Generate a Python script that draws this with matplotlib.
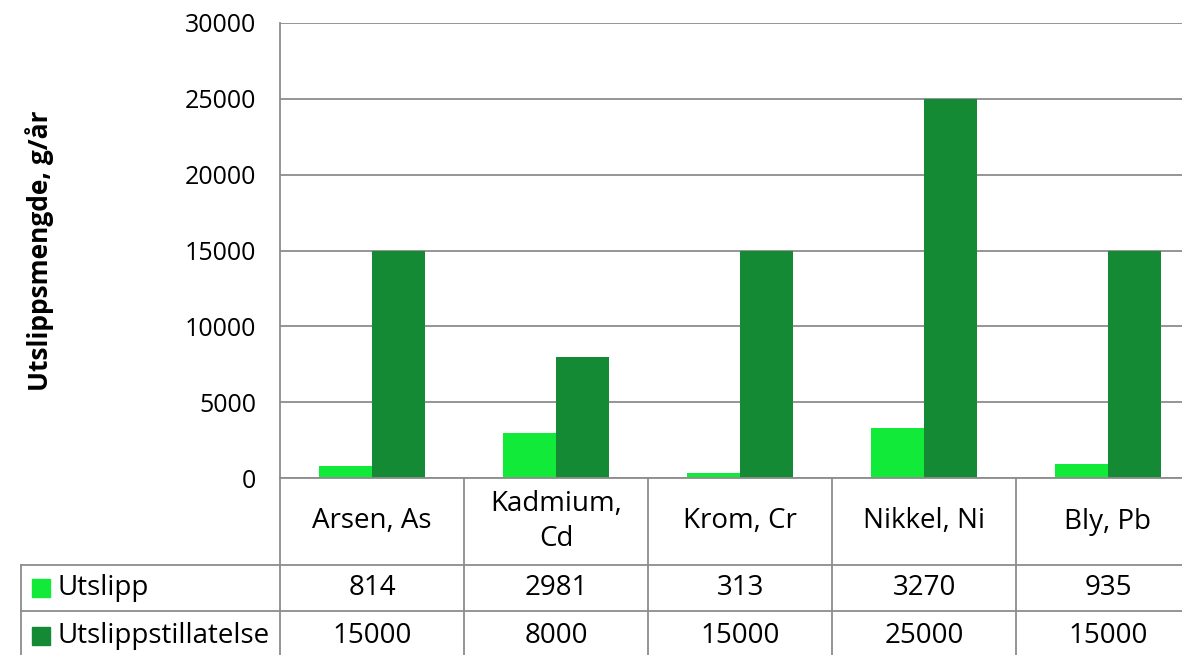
import numpy as np
import matplotlib
matplotlib.use("Agg")
import matplotlib.pyplot as plt
from matplotlib.lines import Line2D

plt.rcParams['font.family'] = ['Open Sans', 'DejaVu Sans']

categories = ["Arsen, As", "Kadmium,\nCd", "Krom, Cr", "Nikkel, Ni", "Bly, Pb"]
series_names = ["Utslipp", "Utslippstillatelse"]
utslipp = [814, 2981, 313, 3270, 935]
tillatelse = [15000, 8000, 15000, 25000, 15000]
yticks = [0, 5000, 10000, 15000, 20000, 25000, 30000]

light = "#12ea3a"
dark = "#138a33"
grid = "#8c8c8c"

W, H = 1182, 655
fig = plt.figure(figsize=(W / 100, H / 100), dpi=100)

# plot area runs past the right edge like the original (clipped)
x0, x1 = 280 / W, 1200 / W
ytop, ybot = 1 - 23 / H, 1 - 478 / H
ax = fig.add_axes([x0, ybot, x1 - x0, ytop - ybot])

idx = np.arange(len(categories))
bw = 0.2857
ax.bar(idx - bw / 2, utslipp, bw, color=light, zorder=3)
ax.bar(idx + bw / 2, tillatelse, bw, color=dark, zorder=3)

ax.set_xlim(-0.5, len(categories) - 0.5)
ax.set_ylim(0, 30000)
ax.set_yticks(yticks)
ax.set_yticklabels([str(v) for v in yticks], fontsize=18)
ax.set_xticks([])
ax.tick_params(axis='y', length=0, pad=17)
ax.yaxis.grid(True, color=grid, linewidth=1.3, zorder=0)
for s in ['top', 'right', 'bottom']:
    ax.spines[s].set_visible(False)
ax.spines['left'].set_color(grid)
ax.spines['left'].set_linewidth(1.3)
fig.text(40 / W, (ytop + ybot) / 2, "Utslippsmengde, g/år", rotation=90,
         ha='center', va='center', fontsize=19, fontweight='bold')

# data table under the plot, sharing the category axis
tab = fig.add_axes([x0, 0, x1 - x0, ybot], sharex=ax)
tab.set_ylim(0, 1)
tab.axis('off')
r1 = (H - 565) / (H - 478)
r2 = (H - 611) / (H - 478)
for b in np.arange(len(categories) + 1) - 0.5:
    tab.plot([b, b], [0, 1], color=grid, lw=1.3, clip_on=False)
tab.plot([-0.5, len(categories) - 0.5], [1, 1], color=grid, lw=1.3, clip_on=False)
for i, c in enumerate(categories):
    tab.text(i, (1 + r1) / 2, c, ha='center', va='center', fontsize=20, linespacing=1.3)
    tab.text(i, (r1 + r2) / 2, str(utslipp[i]), ha='center', va='center', fontsize=20)
    tab.text(i, (H - 636) / (H - 478), str(tillatelse[i]), ha='center', va='center', fontsize=20)

# row header column
lx = 21 / W
for yy in (565, 611):
    fig.add_artist(Line2D([lx, 1], [1 - yy / H, 1 - yy / H], color=grid, lw=1.3))
fig.add_artist(Line2D([lx, lx], [0, 1 - 565 / H], color=grid, lw=1.3))
for name, col, yc in [(series_names[0], light, 588), (series_names[1], dark, 636)]:
    fig.patches.append(plt.Rectangle((32 / W, 1 - (yc + 9) / H), 18 / W, 18 / H,
                                     color=col, transform=fig.transFigure, figure=fig))
    fig.text(58 / W, 1 - yc / H, name, ha='left', va='center', fontsize=20)

fig.savefig("out.png", dpi=100)
